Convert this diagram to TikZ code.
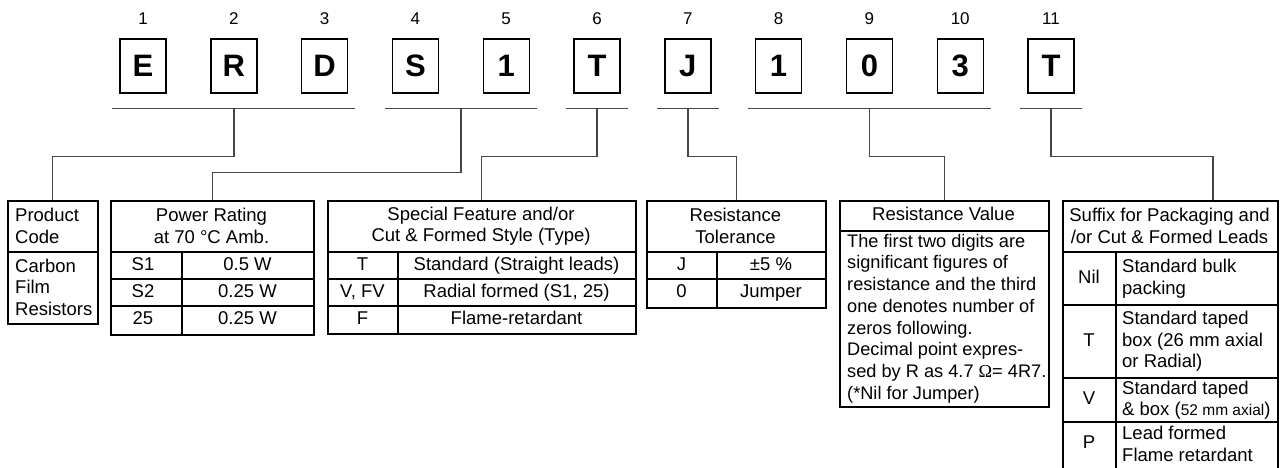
\documentclass[tikz,border=0pt]{standalone}
\usepackage{fontspec}
\setmainfont{Liberation Sans}
\newfontfamily\omegafont{Liberation Serif}
\usetikzlibrary{calc}
\tikzset{
  letterbox/.style={draw, line width=1.4pt, minimum width=46, minimum height=54, inner sep=0, font=\fontsize{31}{31}\selectfont\bfseries},
  numlbl/.style={font=\fontsize{17}{17}\selectfont, inner sep=0},
  conn/.style={line width=1.4pt, black!72},
  tbl/.style={draw, line width=1.5pt, anchor=north west, inner sep=0},
  tline/.style={line width=1.4pt},
  cell/.style={font=\fontsize{18.5}{21.5}\selectfont, inner sep=0, align=center},
  scell/.style={font=\fontsize{18.5}{21.5}\selectfont, inner sep=0, text height=13.3, text depth=3.9},
  lcell/.style={cell, align=left, anchor=west},
}
\begin{document}
\begin{tikzpicture}[x=1pt,y=1pt]
\useasboundingbox (0,0) rectangle (1283,-468);
% letter boxes and numbers
\foreach \i/\t in {1/E,2/R,3/D,4/S,5/1,6/T,7/J,8/1,9/0,10/3,11/T}{
  \node[letterbox] (b\i) at ({143+(\i-1)*90.8},-66) {\t};
  \node[numlbl] (n\i) at ({143+(\i-1)*90.8},-19) {\i};
}
% underlines
\coordinate (g1a) at ([xshift=-7,yshift=-15]b1.south west);
\coordinate (g1b) at ([xshift=7,yshift=-15]b3.south east);
\coordinate (g2a) at ([xshift=-7,yshift=-15]b4.south west);
\coordinate (g2b) at ([xshift=7,yshift=-15]b5.south east);
\coordinate (g3a) at ([xshift=-7,yshift=-15]b6.south west);
\coordinate (g3b) at ([xshift=7,yshift=-15]b6.south east);
\coordinate (g4a) at ([xshift=-7,yshift=-15]b7.south west);
\coordinate (g4b) at ([xshift=7,yshift=-15]b7.south east);
\coordinate (g5a) at ([xshift=-7,yshift=-15]b8.south west);
\coordinate (g5b) at ([xshift=7,yshift=-15]b10.south east);
\coordinate (g6a) at ([xshift=-7,yshift=-15]b11.south west);
\coordinate (g6b) at ([xshift=7,yshift=-15]b11.south east);
\foreach \g in {1,...,6}{
  \draw[conn] (g\g a) -- (g\g b);
  \coordinate (g\g m) at ($(g\g a)!0.5!(g\g b)$);
}
% tables
\node[tbl, minimum width=90, minimum height=123] (pc) at (7,-200) {};
\node[tbl, minimum width=203, minimum height=134] (pr) at (110,-200) {};
\node[tbl, minimum width=308, minimum height=133] (sp) at (327,-200) {};
\node[tbl, minimum width=179, minimum height=107] (tol) at (646,-200) {};
\node[tbl, minimum width=209, minimum height=206] (rv) at (839,-200) {};
\node[tbl, minimum width=215, minimum height=272] (sf) at (1062,-200) {};
% connectors
\draw[conn] (g1m) -- ++(0,-48) -| (pc.north);
\draw[conn] (g2m) -- ++(0,-64) -| (pr.north);
\draw[conn] (g3m) -- ++(0,-48) -| (sp.north);
\draw[conn] (g4m) -- ++(0,-48) -| (tol.north);
\draw[conn] (g5m) -- ++(0,-48) -| (rv.north);
\draw[conn] (g6m) -- ++(0,-48) -| ([xshift=151]sf.north west);
% product code
\draw[tline] (7,-252) -- (97,-252);
\node[lcell] (pc1) at (15,-226) {Product\\Code};
\node[lcell] (pc2) at (15,-287) {Carbon\\Film\\Resistors};
% power rating
\draw[tline] (110,-252) -- (313,-252) (110,-279) -- (313,-279) (110,-306) -- (313,-306) (182,-252) -- (182,-334);
\node[cell] (pr0) at (211.5,-226) {Power Rating\\at 70 °C Amb.};
\node[scell] (pr1a) at (143,-265.5) {S1};
\node[scell] (pr1b) at (247.5,-265.5) {0.5 W};
\node[scell] (pr2a) at (143,-292.5) {S2};
\node[scell] (pr2b) at (247.5,-292.5) {0.25 W};
\node[scell] (pr3a) at (143,-320) {25};
\node[scell] (pr3b) at (247.5,-320) {0.25 W};
% special feature
\draw[tline] (327,-252) -- (635,-252) (327,-279) -- (635,-279) (327,-306) -- (635,-306) (398,-252) -- (398,-333);
\node[cell] (sp0) at (481,-226) {Special Feature and/or\\Cut \& Formed Style (Type)};
\node[scell] (sp1a) at (362.5,-265.5) {T};
\node[scell] (sp1b) at (516.5,-265.5) {Standard (Straight leads)};
\node[scell] (sp2a) at (362.5,-292.5) {V, FV};
\node[scell] (sp2b) at (516.5,-292.5) {Radial formed (S1, 25)};
\node[scell] (sp3a) at (362.5,-319.5) {F};
\node[scell] (sp3b) at (516.5,-319.5) {Flame-retardant};
% tolerance
\draw[tline] (646,-252) -- (825,-252) (646,-279) -- (825,-279) (717,-252) -- (717,-307);
\node[cell] (tol0) at (735.5,-226) {Resistance\\Tolerance};
\node[scell] (tol1a) at (681.5,-265.5) {J};
\node[scell] (tol1b) at (771,-265.5) {±5 \%};
\node[scell] (tol2a) at (681.5,-293) {0};
\node[scell] (tol2b) at (771,-293) {Jumper};
% resistance value
\draw[tline] (839,-231) -- (1048,-231);
\node[scell] (rv0) at (943.5,-215.5) {Resistance Value};
\node[lcell, font=\fontsize{18.2}{21.7}\selectfont] (rv1) at (847,-318.5) {The first two digits are\\significant figures of\\resistance and the third\\one denotes number of\\zeros following.\\Decimal point expres-\\sed by R as 4.7 {\omegafont Ω}= 4R7.\\(*Nil for Jumper)};
% suffix
\draw[tline] (1062,-252) -- (1277,-252) (1062,-305) -- (1277,-305) (1062,-378) -- (1277,-378) (1062,-422) -- (1277,-422) (1116,-252) -- (1116,-472);
\node[cell] (sf0) at (1169.5,-226) {Suffix for Packaging and\\/or Cut \& Formed Leads};
\node[scell] (sf1a) at (1089,-278.5) {Nil};
\node[lcell] (sf1b) at (1122,-278.5) {Standard bulk\\packing};
\node[scell] (sf2a) at (1089,-341.5) {T};
\node[lcell] (sf2b) at (1122,-341.5) {Standard taped\\box (26 mm axial\\or Radial)};
\node[scell] (sf3a) at (1089,-400) {V};
\node[lcell] (sf3b) at (1122,-400) {Standard taped\\\& box ({\fontsize{15.5}{15.5}\selectfont 52 mm axial})};
\node[scell] (sf4a) at (1089,-444) {P};
\node[lcell] (sf4b) at (1122,-444) {Lead formed\\Flame retardant};
\end{tikzpicture}
\end{document}
